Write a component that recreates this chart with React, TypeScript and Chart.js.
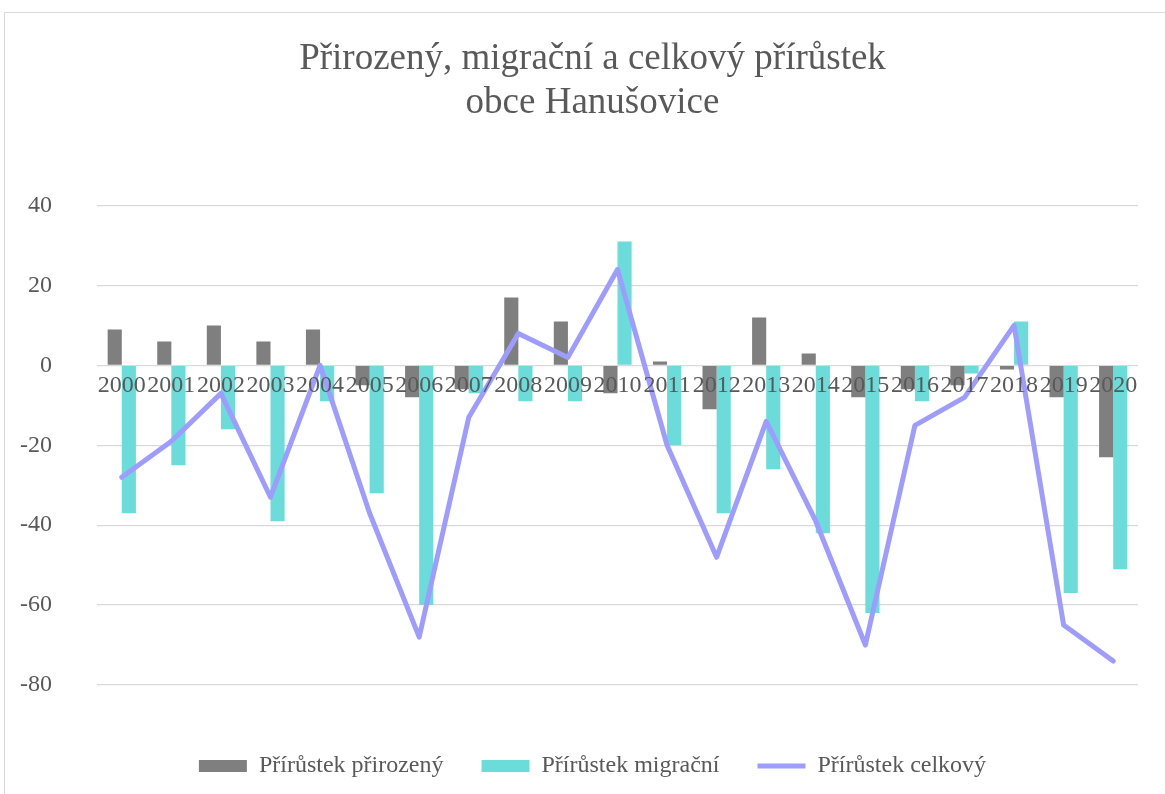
import React, { useEffect, useRef } from "react";
import { Chart, registerables } from "chart.js";

Chart.register(...registerables);

const years = ["2000","2001","2002","2003","2004","2005","2006","2007","2008","2009","2010","2011","2012","2013","2014","2015","2016","2017","2018","2019","2020"];
const natural = [9, 6, 10, 6, 9, -5, -8, -6, 17, 11, -7, 1, -11, 12, 3, -8, -6, -5, -1, -8, -23];
const migration = [-37, -25, -16, -39, -9, -32, -60, -7, -9, -9, 31, -20, -37, -26, -42, -62, -9, -2, 11, -57, -51];
const total = [-28, -19, -7, -33, 0, -37, -68, -13, 8, 2, 24, -20, -48, -14, -39, -70, -15, -8, 10, -65, -74];

const titleLines = ["Přirozený, migrační a celkový přírůstek", "obce Hanušovice"];
const seriesNames = ["Přírůstek přirozený", "Přírůstek migrační", "Přírůstek celkový"];

const FONT = "'Liberation Serif', 'Times New Roman', serif";
const TEXT = "#595959";

export default function App() {
  const ref = useRef<HTMLCanvasElement>(null);
  useEffect(() => {
    if (!ref.current) return;
    const chart = new Chart(ref.current, {
      type: "bar",
      data: {
        labels: years,
        datasets: [
          {
            type: "line",
            label: seriesNames[2],
            data: total,
            borderColor: "#9e9cff",
            backgroundColor: "#9e9cff",
            borderWidth: 5,
            pointRadius: 0,
            pointHoverRadius: 0,
            borderCapStyle: "round",
            borderJoinStyle: "round",
            tension: 0,
            pointStyle: "line",
            order: 0,
          } as any,
          {
            label: seriesNames[0],
            data: natural,
            backgroundColor: "#7f7f7f",
            borderWidth: 0,
            pointStyle: "rect",
            order: 1,
          },
          {
            label: seriesNames[1],
            data: migration,
            backgroundColor: "#6bdcd9",
            borderWidth: 0,
            pointStyle: "rect",
            order: 1,
          },
        ],
      },
      options: {
        responsive: false,
        animation: false,
        devicePixelRatio: 1,
        layout: { padding: { left: 20, right: 0, top: 0, bottom: 6 } },
        datasets: { bar: { categoryPercentage: 0.57, barPercentage: 1.0 } },
        plugins: {
          title: {
            display: true,
            text: titleLines,
            color: TEXT,
            font: { family: FONT, size: 37, weight: "normal", lineHeight: 1.17 },
            padding: { top: 38, bottom: 81 },
          },
          legend: {
            display: true,
            position: "bottom",
            labels: {
              usePointStyle: true,
              pointStyleWidth: 48,
              boxHeight: 12,
              padding: 38,
              color: TEXT,
              font: { family: FONT, size: 24 },
              sort: (a: any, b: any) => {
                const rank = [2, 0, 1];
                return rank[a.datasetIndex] - rank[b.datasetIndex];
              },
            },
          },
          tooltip: { enabled: false },
        },
        scales: {
          x: {
            type: "category",
            position: { y: 0 } as any,
            offset: true,
            grid: { display: false, drawTicks: false },
            border: { display: false },
            ticks: {
              z: 1,
              autoSkip: false,
              maxRotation: 0,
              minRotation: 0,
              padding: 6,
              color: TEXT,
              font: { family: FONT, size: 24 },
            },
          },
          xpad: {
            type: "category",
            position: "bottom",
            display: true,
            grid: { display: false, drawTicks: false },
            border: { display: false },
            ticks: { display: false },
            afterFit: (s: any) => {
              s.height = 31;
            },
          } as any,
          y: {
            min: -80,
            max: 40,
            ticks: {
              stepSize: 20,
              padding: 45,
              color: TEXT,
              font: { family: FONT, size: 24 },
            },
            afterFit: (s: any) => {
              s.width = 77;
            },
            grid: { color: "#d9d9d9", lineWidth: 1.3, drawTicks: false },
            border: { display: false },
          },
          ypad: {
            type: "linear",
            position: "right",
            display: true,
            grid: { display: false, drawTicks: false },
            border: { display: false },
            ticks: { display: false },
            afterFit: (s: any) => {
              s.width = 27;
            },
          } as any,
        },
      },
    });
    return () => chart.destroy();
  }, []);

  return (
    <div style={{ position: "absolute", left: 0, top: 0, width: 1165, height: 794, overflow: "hidden", background: "#fff" }}>
      <div style={{ position: "absolute", left: 4, top: 12, width: 1180, height: 800, border: "1px solid #d9d9d9", boxSizing: "border-box" }} />
      <canvas ref={ref} width={1165} height={794} style={{ position: "absolute", left: 0, top: 0, width: 1165, height: 794 }} />
    </div>
  );
}
